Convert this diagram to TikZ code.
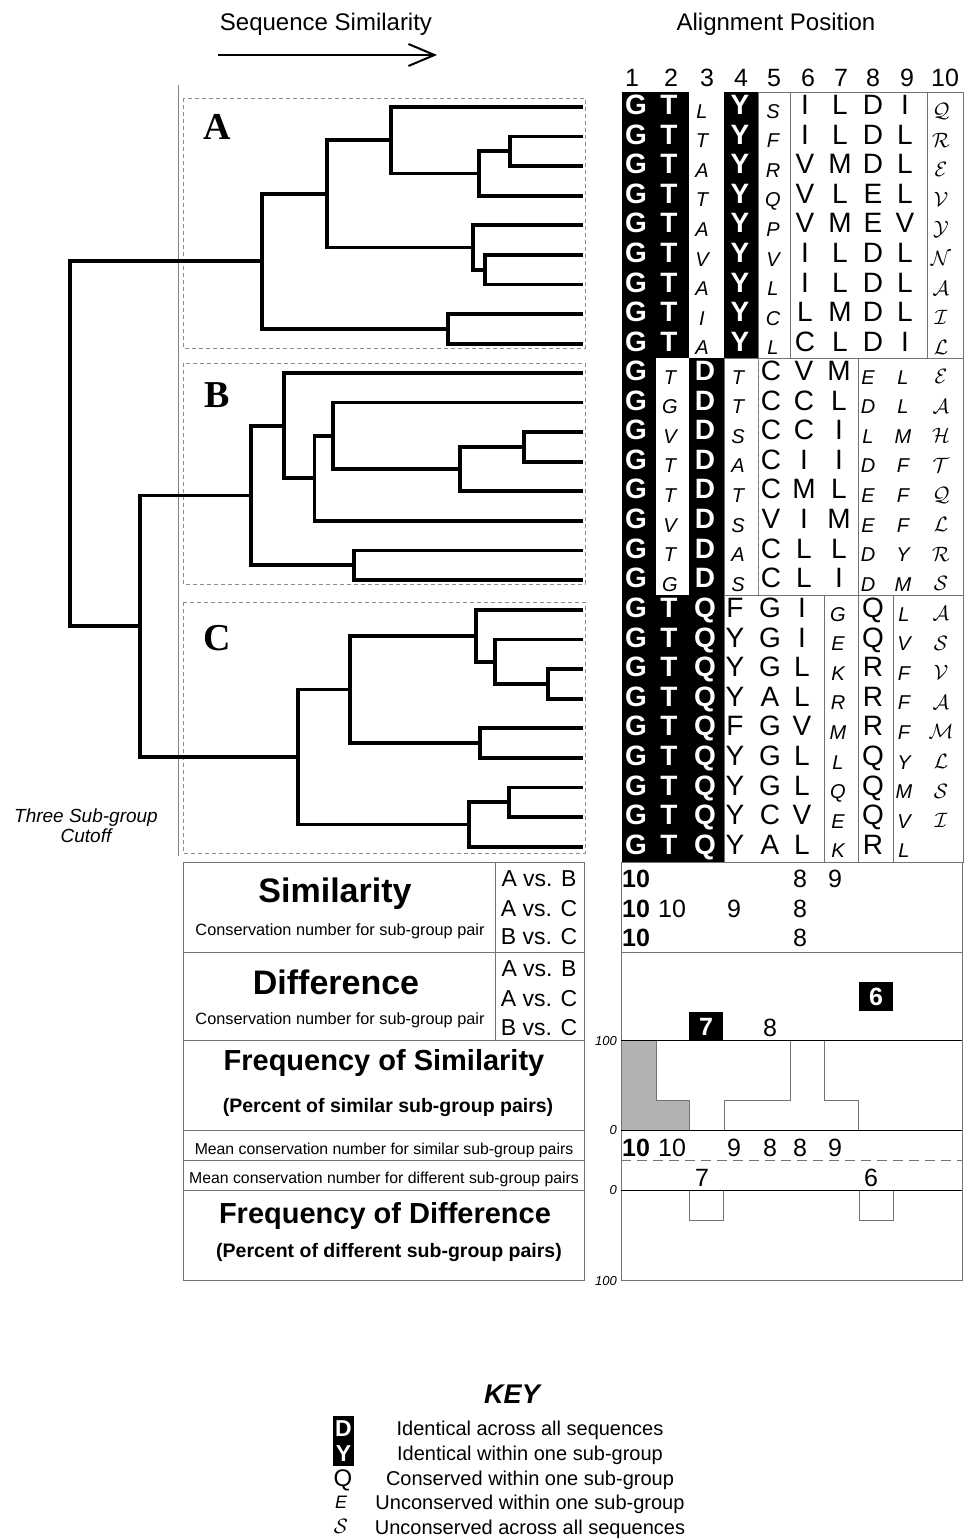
\documentclass[tikz,border=0pt]{standalone}
\usepackage{fontspec}
\setmainfont{Liberation Sans}
\newfontfamily\tnr{Liberation Serif}
\usetikzlibrary{arrows.meta}
\newcommand\cellput[5]{%
  \ifcase#3\or
    \node[cW] (#5) at (#1,#2+22.5) {#4};%
  \or
    \node[cU] (#5) at (#1,#2+22.5) {#4};%
  \or
    \node[cI] (#5) at (#1,#2+26) {#4};%
  \or
    \node[cS] (#5) at (#1,#2+25.5) {$\mathcal{#4}$};%
  \fi}
\begin{document}
\begin{tikzpicture}[x=1pt,y=-1pt,
  tree/.style={line width=3.8pt, line join=miter},
  grp/.style={draw=black!45, dash pattern=on 4pt off 3pt, line width=0.7pt},
  gridl/.style={draw=black!55, line width=0.6pt},
  tbl/.style={draw=black!55, line width=0.7pt},
  cW/.style={anchor=base, inner sep=0pt, text=white, font=\bfseries\fontsize{28}{30}\selectfont},
  cU/.style={anchor=base, inner sep=0pt, font=\fontsize{28}{30}\selectfont},
  cI/.style={anchor=base, inner sep=0pt, font=\itshape\fontsize{20}{22}\selectfont},
  cS/.style={anchor=base, inner sep=0pt, font=\fontsize{22}{24}\selectfont},
  hd/.style={anchor=base, inner sep=0pt, font=\fontsize{24}{28}\selectfont},
  num/.style={anchor=base, inner sep=0pt, font=\fontsize{25}{28}\selectfont},
  numb/.style={anchor=base, inner sep=0pt, font=\bfseries\fontsize{25}{28}\selectfont},
  vs/.style={anchor=base, inner sep=0pt, font=\fontsize{23}{26}\selectfont},
  big/.style={anchor=base, inner sep=0pt, font=\bfseries\fontsize{34}{38}\selectfont},
  mid/.style={anchor=base, inner sep=0pt, font=\bfseries\fontsize{29}{32}\selectfont},
  sub/.style={anchor=base, inner sep=0pt, font=\bfseries\fontsize{19.5}{22}\selectfont},
  small/.style={anchor=base, inner sep=0pt, font=\fontsize{16.3}{19}\selectfont},
  smaller/.style={anchor=base, inner sep=0pt, font=\fontsize{15.8}{19}\selectfont},
  axl/.style={anchor=base east, inner sep=0pt, font=\itshape\fontsize{13}{15}\selectfont},
  keyt/.style={anchor=base, inner sep=0pt, font=\fontsize{20}{23}\selectfont},
  grpl/.style={anchor=base, inner sep=0pt, font=\tnr\bfseries\fontsize{38}{40}\selectfont}
]
\useasboundingbox (0,0) rectangle (965,1539);
\fill[white] (0,0) rectangle (965,1539);

% ---------- headers ----------
\node[hd] (h1) at (326,30) {Sequence Similarity};
\node[hd] (h2) at (776,30) {Alignment Position};
\coordinate (ar1) at (218,55);
\coordinate (ar2) at (437,55);
\draw[line width=2pt, -{Straight Barb[length=26pt,width=22pt,line width=2pt]}] (ar1) -- (ar2);
\foreach \n/\x in {1/632,2/671,3/707,4/741,5/774,6/808,7/841,8/873,9/907,10/945}
  \node[num] (col\n) at (\x,86) {\n};

% ---------- alignment black areas ----------
\fill (622,92) rectangle (689,358);
\fill (724,92) rectangle (758,358);
\fill (622,358) rectangle (656,862);
\fill (689,358) rectangle (724,862);
\fill (656,595) rectangle (689,862);

% ---------- alignment grid lines ----------
\draw[gridl] (758,92) rectangle (790,358);
\draw[gridl] (790,92) rectangle (927,358);
\draw[gridl] (927,92) rectangle (963,358);
\draw[gridl] (724,358) rectangle (758,595);
\draw[gridl] (858,358) rectangle (963,595);
\draw[gridl] (758,358) -- (858,358);
\draw[gridl] (758,595) -- (858,595);
\draw[grp] (758,358) -- (758,595);
\draw[gridl] (724,595) rectangle (824,862);
\draw[gridl] (824,595) rectangle (858,862);
\draw[gridl] (858,595) rectangle (893,862);
\draw[gridl] (893,595) rectangle (963,862);

% ---------- alignment letters ----------
\foreach \row [count=\r] in {{G,T,L,Y,S,I,L,D,I,Q},{G,T,T,Y,F,I,L,D,L,R},{G,T,A,Y,R,V,M,D,L,E},
  {G,T,T,Y,Q,V,L,E,L,V},{G,T,A,Y,P,V,M,E,V,Y},{G,T,V,Y,V,I,L,D,L,N},{G,T,A,Y,L,I,L,D,L,A},
  {G,T,I,Y,C,L,M,D,L,I},{G,T,A,Y,L,C,L,D,I,L}}{
  \pgfmathsetmacro\tp{92+29.6*(\r-1)}
  \foreach \ch [count=\c] in \row {
    \pgfmathtruncatemacro\sc{{1,1,3,1,3,2,2,2,2,4}[\c-1]}
    \pgfmathsetmacro\cx{{636,669,702,740,773,805,840,873,905,941}[\c-1]}
    \cellput{\cx}{\tp}{\sc}{\ch}{sa-\r-\c}
  }
}
\foreach \row [count=\r] in {{G,T,D,T,C,V,M,E,L,E},{G,G,D,T,C,C,L,D,L,A},{G,V,D,S,C,C,I,L,M,H},
  {G,T,D,A,C,I,I,D,F,T},{G,T,D,T,C,M,L,E,F,Q},{G,V,D,S,V,I,M,E,F,L},{G,T,D,A,C,L,L,D,Y,R},
  {G,G,D,S,C,L,I,D,M,S}}{
  \pgfmathsetmacro\tp{358+29.6*(\r-1)}
  \foreach \ch [count=\c] in \row {
    \pgfmathtruncatemacro\sc{{1,3,1,3,2,2,2,3,3,4}[\c-1]}
    \pgfmathsetmacro\cx{{636,670,705,738,771,804,839,868,903,941}[\c-1]}
    \cellput{\cx}{\tp}{\sc}{\ch}{sb-\r-\c}
  }
}
\foreach \row [count=\r] in {{G,T,Q,F,G,I,G,Q,L,A},{G,T,Q,Y,G,I,E,Q,V,S},{G,T,Q,Y,G,L,K,R,F,V},
  {G,T,Q,Y,A,L,R,R,F,A},{G,T,Q,F,G,V,M,R,F,M},{G,T,Q,Y,G,L,L,Q,Y,L},{G,T,Q,Y,G,L,Q,Q,M,S},
  {G,T,Q,Y,C,V,E,Q,V,I},{G,T,Q,Y,A,L,K,R,L}}{
  \pgfmathsetmacro\tp{595+29.6*(\r-1)}
  \foreach \ch [count=\c] in \row {
    \pgfmathtruncatemacro\sc{{1,1,1,2,2,2,3,2,3,4}[\c-1]}
    \pgfmathsetmacro\cx{{636,669,705,735,770,802,838,873,904,941}[\c-1]}
    \cellput{\cx}{\tp}{\sc}{\ch}{sc-\r-\c}
  }
}

% ---------- sub-group boxes and cutoff ----------
\coordinate (cut1) at (178,85);
\coordinate (cut2) at (178,856);
\draw[black!50, line width=0.6pt] (cut1) -- (cut2);
\draw[grp] (183,98) rectangle (585,348);
\draw[grp] (183,363) rectangle (585,584);
\draw[grp] (183,602) rectangle (585,853);
\node[grpl] (gA) at (217,139) {A};
\node[grpl] (gB) at (217,407) {B};
\node[grpl] (gC) at (217,650) {C};
\node[anchor=center, inner sep=0pt, align=center, font=\itshape\fontsize{19}{20}\selectfont] (cutlab) at (86,826) {Three Sub-group\\Cutoff};

% ---------- tree ----------
\foreach \i [evaluate=\i as \yy using 92+29.6*(\i-0.5)] in {1,...,9} \coordinate (LA\i) at (583,\yy);
\foreach \i [evaluate=\i as \yy using 358+29.6*(\i-0.5)] in {1,...,8} \coordinate (LB\i) at (583,\yy);
\foreach \i [evaluate=\i as \yy using 595+29.6*(\i-0.5)] in {1,...,9} \coordinate (LC\i) at (583,\yy);
\coordinate (Ac) at (510,151.2);
\coordinate (Ab) at (479,173.4);
\coordinate (Aa) at (391,140.1);
\coordinate (Af) at (485,269.6);
\coordinate (Ae) at (473,247.4);
\coordinate (Ad) at (327,193.8);
\coordinate (Ah) at (448,328.8);
\coordinate (Ag) at (262,261.3);
\coordinate (Bt) at (524,446.8);
\coordinate (Bs) at (460,469);
\coordinate (Br) at (333,435.7);
\coordinate (Bq) at (314.5,478.3);
\coordinate (Bp) at (284,425.6);
\coordinate (Bu) at (354,565.2);
\coordinate (Bv) at (251,495.4);
\coordinate (Cz) at (548,683.8);
\coordinate (Cx) at (495,661.6);
\coordinate (Cw) at (476,635.7);
\coordinate (Caa) at (480,743);
\coordinate (Cyy) at (350,689.4);
\coordinate (Cbb) at (509,802.2);
\coordinate (Cdd) at (469,824.4);
\coordinate (Ccc) at (298,756.9);
\coordinate (BC) at (140,626.2);
\coordinate (root) at (70,443.7);
\draw[tree] (LA2) -| (Ac) |- (LA3);
\draw[tree] (Ac) -| (Ab) |- (LA4);
\draw[tree] (LA1) -| (Aa) |- (Ab);
\draw[tree] (LA6) -| (Af) |- (LA7);
\draw[tree] (LA5) -| (Ae) |- (Af);
\draw[tree] (Aa) -| (Ad) |- (Ae);
\draw[tree] (LA8) -| (Ah) |- (LA9);
\draw[tree] (Ad) -| (Ag) |- (Ah);
\draw[tree] (LB3) -| (Bt) |- (LB4);
\draw[tree] (Bt) -| (Bs) |- (LB5);
\draw[tree] (LB2) -| (Br) |- (Bs);
\draw[tree] (Br) -| (Bq) |- (LB6);
\draw[tree] (LB1) -| (Bp) |- (Bq);
\draw[tree] (LB7) -| (Bu) |- (LB8);
\draw[tree] (Bp) -| (Bv) |- (Bu);
\draw[tree] (LC3) -| (Cz) |- (LC4);
\draw[tree] (LC2) -| (Cx) |- (Cz);
\draw[tree] (LC1) -| (Cw) |- (Cx);
\draw[tree] (LC5) -| (Caa) |- (LC6);
\draw[tree] (Cw) -| (Cyy) |- (Caa);
\draw[tree] (LC7) -| (Cbb) |- (LC8);
\draw[tree] (Cbb) -| (Cdd) |- (LC9);
\draw[tree] (Cyy) -| (Ccc) |- (Cdd);
\draw[tree] (Bv) -| (BC) |- (Ccc);
\draw[tree] (Ag) -| (root) |- (BC);

% ---------- label panel ----------
\draw[tbl] (183,862) rectangle (584,1280);
\foreach \yy in {952,1040,1130,1160,1190} \draw[tbl] (183,\yy) -- (584,\yy);
\draw[tbl] (495,862) -- (495,1040);
\node[big] (simt) at (335,902) {Similarity};
\node[small] (simc) at (340,935) {Conservation number for sub-group pair};
\node[vs] (s1) at (539,886) {A vs. B};
\node[vs] (s2) at (539,916) {A vs. C};
\node[vs] (s3) at (539,944) {B vs. C};
\node[big] (dift) at (336,994) {Difference};
\node[small] (difc) at (340,1024) {Conservation number for sub-group pair};
\node[vs] (d1) at (539,976) {A vs. B};
\node[vs] (d2) at (539,1006) {A vs. C};
\node[vs] (d3) at (539,1035) {B vs. C};
\node[mid] (fs) at (384,1070) {Frequency of Similarity};
\node[sub] (fsp) at (388,1112) {(Percent of similar sub-group pairs)};
\node[smaller] (ms) at (384,1154) {Mean conservation number for similar sub-group pairs};
\node[smaller] (md) at (384,1183) {Mean conservation number for different sub-group pairs};
\node[mid] (fd) at (385,1223) {Frequency of Difference};
\node[sub] (fdp) at (389,1257) {(Percent of different sub-group pairs)};

% ---------- data panel ----------
\fill[black!30] (621,1040) rectangle (656,1130);
\fill[black!30] (656,1100) rectangle (689,1130);
\draw[tbl] (621,1040) -- (656,1040) -- (656,1100) -- (689,1100) -- (689,1130);
\draw[tbl] (724,1130) -- (724,1100) -- (790,1100) -- (790,1040) -- (824,1040) -- (824,1100) -- (858,1100) -- (858,1130);
\draw[tbl] (689,1190) rectangle (723,1220);
\draw[tbl] (859,1190) rectangle (893,1220);
\draw[tbl] (621,862) rectangle (962,1280);
\draw[tbl] (621,952) -- (962,952);
\draw[tbl, dash pattern=on 10pt off 6pt] (621,1160) -- (962,1160);
\draw[black, line width=0.8pt] (621,1040) -- (962,1040);
\draw[black, line width=0.8pt] (621,1130) -- (962,1130);
\draw[black, line width=0.8pt] (621,1190) -- (962,1190);
\node[axl] (ax1) at (617,1045) {100};
\node[axl] (ax2) at (617,1134) {0};
\node[axl] (ax3) at (617,1194) {0};
\node[axl] (ax4) at (617,1285) {100};
% similarity numbers
\node[numb] (sa1) at (636,887) {10};
\node[num] (sa6) at (800,887) {8};
\node[num] (sa7) at (835,887) {9};
\node[numb] (sb1) at (636,917) {10};
\node[num] (sb2) at (672,917) {10};
\node[num] (sb4) at (734,917) {9};
\node[num] (sb6) at (800,917) {8};
\node[numb] (sc1) at (636,946) {10};
\node[num] (sc6) at (800,946) {8};
% difference numbers
\fill (859,982) rectangle (893,1011);
\node[numb, text=white] (dd6) at (876,1005) {6};
\fill (689,1012) rectangle (723,1040);
\node[numb, text=white] (dd7) at (706,1035) {7};
\node[num] (dd8) at (770,1036) {8};
% mean rows
\node[numb] (m1) at (636,1156) {10};
\node[num] (m2) at (672,1156) {10};
\node[num] (m4) at (734,1156) {9};
\node[num] (m5) at (770,1156) {8};
\node[num] (m6) at (800,1156) {8};
\node[num] (m7) at (835,1156) {9};
\node[num] (n3) at (702,1186) {7};
\node[num] (n8) at (871,1186) {6};

% ---------- key ----------
\node[anchor=base, inner sep=0pt, font=\bfseries\itshape\fontsize{27}{30}\selectfont] (key) at (512,1403) {KEY};
\fill (333,1416) rectangle (354,1466);
\node[anchor=base, inner sep=0pt, text=white, font=\bfseries\fontsize{23}{25}\selectfont] (kD) at (343.5,1436.5) {D};
\node[anchor=base, inner sep=0pt, text=white, font=\bfseries\fontsize{23}{25}\selectfont] (kY) at (343.5,1461.5) {Y};
\node[anchor=base, inner sep=0pt, font=\fontsize{24}{26}\selectfont] (kQ) at (343,1486) {Q};
\node[anchor=base, inner sep=0pt, font=\itshape\fontsize{18}{20}\selectfont] (kE) at (341,1508) {E};
\node[anchor=base, inner sep=0pt, font=\fontsize{21}{23}\selectfont] (kS) at (341,1533) {$\mathcal{S}$};
\node[keyt] (k1) at (530,1435) {Identical across all sequences};
\node[keyt] (k2) at (530,1460) {Identical within one sub-group};
\node[keyt] (k3) at (530,1485) {Conserved within one sub-group};
\node[keyt] (k4) at (530,1509) {Unconserved within one sub-group};
\node[keyt] (k5) at (530,1534) {Unconserved across all sequences};
\end{tikzpicture}
\end{document}
